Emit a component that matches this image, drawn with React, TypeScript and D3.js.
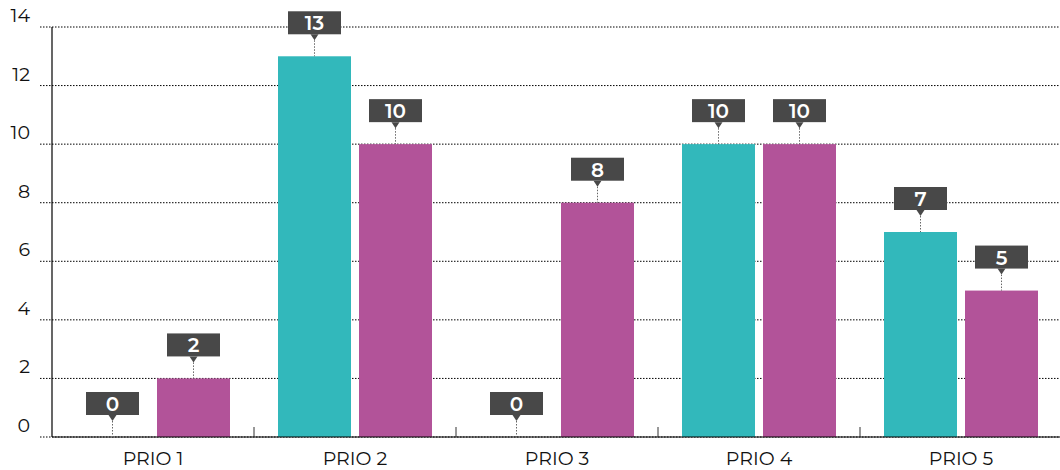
import React from "react";
import * as d3 from "d3";

const categories = ["PRIO 1", "PRIO 2", "PRIO 3", "PRIO 4", "PRIO 5"];
const seriesA = [0, 13, 0, 10, 7];
const seriesB = [2, 10, 8, 10, 5];
const yTicks = [0, 2, 4, 6, 8, 10, 12, 14];
const colors = ["#32b8bb", "#b25399"];

export default function App() {
  const W = 1060, H = 470;
  const left = 52, right = 1062, top = 27, bottom = 437;
  const x = d3.scaleBand<string>().domain(categories).range([left, right]).paddingInner(0).paddingOuter(0);
  const inner = d3.scaleBand<string>().domain(["a", "b"]).range([0, 154]).paddingInner(8 / 81);
  const y = d3.scaleLinear().domain([0, 14]).range([bottom, top]);
  const groupOffset = (x.bandwidth() - 154) / 2;
  const font = "Montserrat, 'Open Sans', sans-serif";

  const bars: { cx: number; x: number; w: number; v: number; c: string }[] = [];
  categories.forEach((c, i) => {
    [seriesA[i], seriesB[i]].forEach((v, j) => {
      const bx = (x(c) as number) + groupOffset + (inner(j === 0 ? "a" : "b") as number);
      bars.push({ x: bx, w: inner.bandwidth(), cx: bx + inner.bandwidth() / 2, v, c: colors[j] });
    });
  });

  return (
    <svg width={W} height={H} style={{ position: "absolute", left: 0, top: 0 }}>
      {yTicks.map((t) => (
        <g key={t}>
          <line x1={40} x2={1060} y1={y(t)} y2={y(t)} stroke="#000" strokeWidth={1} strokeDasharray="1.5,1.5" />
          <text x={30} y={y(t) - 5} textAnchor="end" fontFamily={font} fontSize={19} fill="#111">{t}</text>
        </g>
      ))}
      {bars.map((b, i) => (
        <rect key={i} x={b.x} y={y(b.v)} width={b.w} height={bottom - y(b.v)} fill={b.c} />
      ))}
      <line x1={left} x2={left} y1={top} y2={bottom} stroke="#000" strokeWidth={1.2} />
      <line x1={left} x2={1060} y1={bottom} y2={bottom} stroke="#000" strokeWidth={1.2} />
      {categories.slice(1).map((c) => (
        <line key={c} x1={x(c)} x2={x(c)} y1={bottom - 10} y2={bottom} stroke="#333" strokeWidth={1} />
      ))}
      {categories.map((c) => (
        <text key={c} x={(x(c) as number) + x.bandwidth() / 2} y={465} textAnchor="middle" fontFamily={font} fontSize={19} fill="#111">{c}</text>
      ))}
      {bars.map((b, i) => {
        const yt = y(b.v);
        const boxBottom = yt - 22;
        const boxTop = boxBottom - 23;
        return (
          <g key={"l" + i}>
            <line x1={b.cx} x2={b.cx} y1={boxBottom + 6} y2={yt} stroke="#666" strokeWidth={1} strokeDasharray="1.5,1.5" />
            <rect x={b.cx - 26.5} y={boxTop} width={53} height={23} fill="#484848" />
            <path d={`M${b.cx - 4},${boxBottom} L${b.cx + 4},${boxBottom} L${b.cx},${boxBottom + 6} Z`} fill="#484848" />
            <text x={b.cx} y={boxTop + 19} textAnchor="middle" fontFamily={font} fontWeight={600} fontSize={20} fill="#fff">{b.v}</text>
          </g>
        );
      })}
    </svg>
  );
}
